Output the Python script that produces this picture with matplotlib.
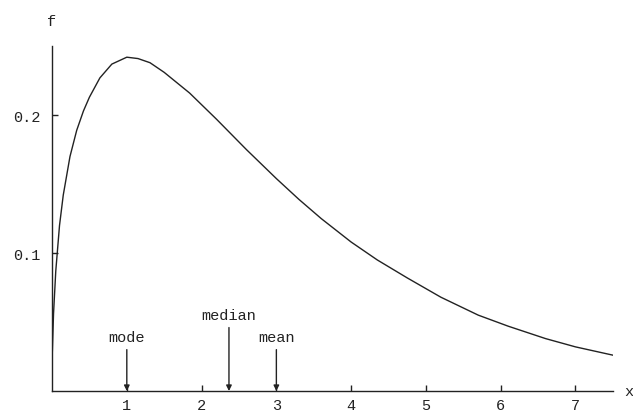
import matplotlib
matplotlib.use("Agg")
import matplotlib.pyplot as plt

# curve
x_vals = [0.001, 0.005, 0.02, 0.05, 0.1, 0.15, 0.24, 0.33, 0.42, 0.5, 0.64, 0.8, 1.0, 1.15, 1.31,
          1.5, 1.84, 2.2, 2.6, 3.0, 3.3, 3.6, 4.0, 4.35, 4.75, 5.2, 5.7, 6.1, 6.6, 7.0, 7.5]
f_vals = [0.024, 0.030, 0.056, 0.087, 0.120, 0.142, 0.170, 0.189, 0.203, 0.213, 0.227, 0.237, 0.242, 0.241, 0.238,
          0.231, 0.216, 0.197, 0.175, 0.154, 0.139, 0.125, 0.108, 0.095, 0.082, 0.068, 0.055, 0.047, 0.038, 0.032, 0.026]

marks = ["mode", "median", "mean"]
mark_x = [1.0, 2.366, 3.0]
mark_top = [0.030, 0.046, 0.030]

x_ticks = [1, 2, 3, 4, 5, 6, 7]
y_ticks = [0.1, 0.2]

plt.rcParams['font.family'] = ['Liberation Mono', 'DejaVu Sans Mono']

fig = plt.figure(figsize=(6.33, 4.14), dpi=100)
ax = fig.add_axes([0.0822, 0.0531, 0.886, 0.833])

ax.plot(x_vals, f_vals, color='#222222', lw=1.0)

for name, mx, top in zip(marks, mark_x, mark_top):
    ax.annotate("", xy=(mx, 0.0), xytext=(mx, top),
                arrowprops=dict(arrowstyle='-|>', color='#222222', lw=1.0,
                                mutation_scale=8, shrinkA=0, shrinkB=0))
    ax.text(mx, top + 0.009, name, ha='center', va='center', fontsize=11, color='#222222')

ax.set_xlim(0, 7.5)
ax.set_ylim(0, 0.25)
ax.set_xticks(x_ticks)
ax.set_yticks(y_ticks)
ax.set_yticklabels(["0.1", "0.2"])
ax.tick_params(direction='in', length=4, width=1, labelsize=11, colors='#222222', pad=8)
ax.tick_params(axis='x', pad=5)
for s in ['top', 'right']:
    ax.spines[s].set_visible(False)
for s in ['left', 'bottom']:
    ax.spines[s].set_color('#222222')
    ax.spines[s].set_linewidth(1.0)

ax.text(0.0, 0.268, "f", ha='center', va='center', fontsize=11, color='#222222')
ax.text(7.72, 0.0, "x", ha='center', va='center', fontsize=11, color='#222222', clip_on=False)

fig.savefig("out.png", dpi=100)
